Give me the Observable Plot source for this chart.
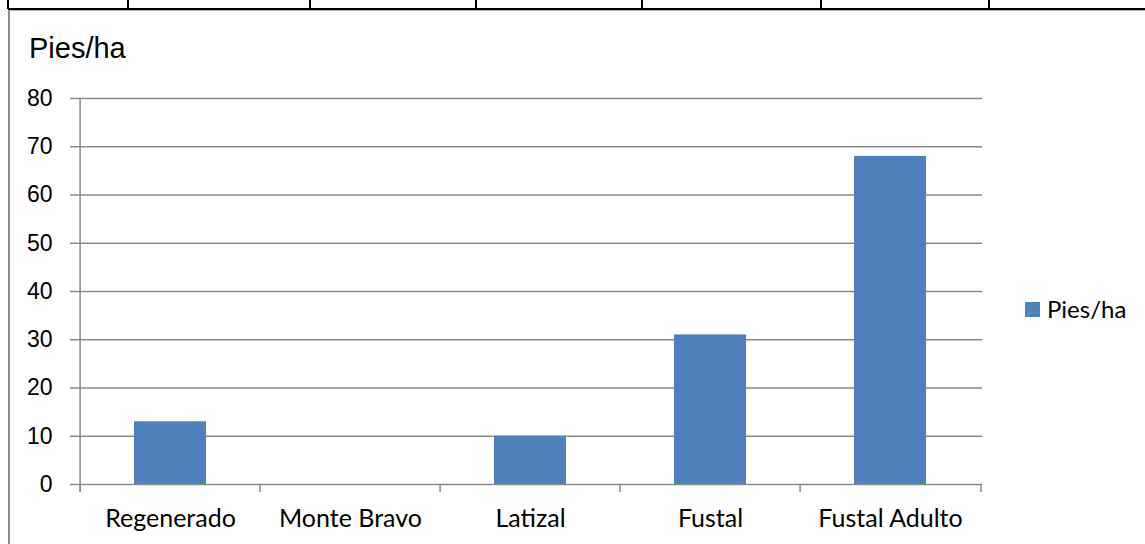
<!DOCTYPE html>
<html><head><meta charset="utf-8">
<script src="https://cdn.jsdelivr.net/npm/d3@7"></script>
<script src="https://cdn.jsdelivr.net/npm/@observablehq/plot@0.6"></script>
<style>
body{margin:0;background:#fff;}
#wrap{position:relative;width:1145px;height:544px;overflow:hidden;background:#fff;}
#head{position:relative;height:70px;}
.vline{position:absolute;top:0;width:2px;height:9px;background:#000;}
#topline{position:absolute;left:8px;right:0;top:8px;height:2px;background:#000;}
#grayTop{position:absolute;left:8px;right:0;top:10px;height:1px;background:#b0b0b0;}
#grayLeft{position:absolute;left:8px;top:10px;bottom:0;width:2px;background:#8c8c8c;z-index:5;}
#title{position:absolute;left:29px;top:34px;font-family:"Liberation Sans",Arial,sans-serif;font-size:29px;line-height:29px;color:#000;white-space:nowrap;}
#legend{position:absolute;left:1025px;top:297px;font-family:Lato,sans-serif;font-size:24px;line-height:24px;color:#000;white-space:nowrap;display:flex;align-items:center;}
#legend .sw{display:inline-block;width:15px;height:15px;background:#4F81BD;margin-right:7px;}
</style>
</head>
<body>
<div id="wrap">
  <div id="head">
    <div id="topline"></div>
    <div id="grayTop"></div>
    <div id="title"></div>
  </div>
  <div id="chart"></div>
  <div id="legend"><span class="sw"></span><span id="legtext"></span></div>
  <div id="grayLeft"></div>
</div>
<script>
const categories = ["Regenerado", "Monte Bravo", "Latizal", "Fustal", "Fustal Adulto"];
const values = [13, 0, 10, 31, 68];
const yTicks = [0, 10, 20, 30, 40, 50, 60, 70, 80];
const seriesName = "Pies/ha";
const titleText = "Pies/ha";
const tableDividers = [128, 310, 476, 642, 821, 989];

const data = categories.map((c, i) => ({cat: c, value: values[i]}));

document.getElementById("title").textContent = titleText;
document.getElementById("legtext").textContent = seriesName;
const head = document.getElementById("head");
for (const x of [8, ...tableDividers]) {
  const d = document.createElement("div");
  d.className = "vline";
  d.style.left = (x - 1) + "px";
  head.appendChild(d);
}

const W = 1145, H = 474, ml = 78, mr = 163, mt = 28, mb = 60;
const step = (W - ml - mr) / categories.length;
const pxPerUnit = (H - mt - mb) / (yTicks[yTicks.length - 1] - yTicks[0]);
const tickLen = 8 / pxPerUnit;
const gray = "#8a8a8a";

const chart = Plot.plot({
  width: W, height: H,
  marginLeft: ml, marginRight: mr, marginTop: mt, marginBottom: mb,
  style: {background: "transparent", overflow: "visible", color: "#000"},
  x: {domain: categories, paddingInner: 0.6, paddingOuter: 0.3, align: 0.5},
  y: {domain: [yTicks[0], yTicks[yTicks.length - 1]]},
  marks: [
    Plot.ruleY(yTicks, {stroke: gray, strokeWidth: 1.5}),
    Plot.axisY({ticks: yTicks, tickSize: 8, tickPadding: 18, stroke: gray, strokeWidth: 1.5, label: null, fill: "#000",
      fontSize: 23, fontFamily: "Liberation Sans, Arial, sans-serif"}),
    Plot.barY(data, {x: "cat", y: "value", fill: "#4F81BD"}),
    Plot.ruleX([categories[0]], {x: d => d, dx: -step / 2, y1: -tickLen, y2: yTicks[yTicks.length - 1], stroke: gray, strokeWidth: 1.5}),
    Plot.ruleX(categories, {x: d => d, dx: -step / 2, y1: -tickLen, y2: 0, stroke: gray, strokeWidth: 1.5}),
    Plot.ruleX([categories[categories.length - 1]], {x: d => d, dx: step / 2, y1: -tickLen, y2: 0, stroke: gray, strokeWidth: 1.5}),
    Plot.axisX({tickSize: 0, tickPadding: 25, label: null, fill: "#000", fontSize: 25, fontFamily: "Lato, sans-serif"})
  ]
});
document.getElementById("chart").appendChild(chart);
</script>
</body></html>
